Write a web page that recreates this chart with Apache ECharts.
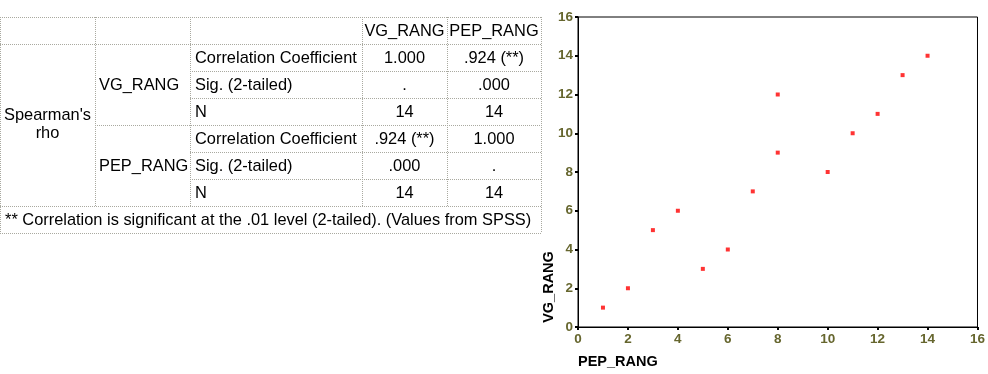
<!DOCTYPE html>
<html><head><meta charset="utf-8">
<script src="https://cdn.jsdelivr.net/npm/echarts@6/dist/echarts.min.js"></script>
<style>html,body{margin:0;padding:0;background:#fff}#c{width:988px;height:374px}</style>
</head><body><div id="c"></div>
<script>
// Scatter data (PEP_RANG, VG_RANG)
var pepRang = [1, 2, 3, 4, 5, 6, 7, 8, 8, 10, 11, 12, 13, 14];
var vgRang  = [1, 2, 5, 6, 3, 4, 7, 9, 12, 8, 10, 11, 13, 14];
var axisTicks = [0, 2, 4, 6, 8, 10, 12, 14, 16];
var xName = 'PEP_RANG', yName = 'VG_RANG';

// Table content
var colHeaders = ['VG_RANG', 'PEP_RANG'];
var groupLabel = ["Spearman's", 'rho'];
var varLabels = ['VG_RANG', 'PEP_RANG'];
var statLabels = ['Correlation Coefficient', 'Sig. (2-tailed)', 'N'];
var colVG  = ['1.000', '.', '14', '.924 (**)', '.000', '14'];
var colPEP = ['.924 (**)', '.000', '14', '1.000', '.', '14'];
var footnote = '** Correlation is significant at the .01 level (2-tailed). (Values from SPSS)';

var colX = [0, 95, 190, 362, 447, 541];
var rowY = [17, 44, 71, 98, 125, 152, 179, 206, 233];
var FONT = '"Liberation Sans", Arial, sans-serif';
var lineCol = '#a9a9a0';

var g = [];
function hline(x1, x2, y) {
  g.push({type:'line', silent:true, shape:{x1:x1, y1:y+0.5, x2:x2, y2:y+0.5},
    style:{stroke:lineCol, lineWidth:1, lineDash:[1,1]}});
}
function vline(x, y1, y2) {
  g.push({type:'line', silent:true, shape:{x1:x+0.5, y1:y1, x2:x+0.5, y2:y2},
    style:{stroke:lineCol, lineWidth:1, lineDash:[1,1]}});
}
function txt(s, x, y, align) {
  g.push({type:'text', silent:true, x:x, y:y,
    style:{text:s, fill:'#000', font:'16.4px ' + FONT, align:align || 'left', verticalAlign:'middle'}});
}
// borders
hline(colX[0], colX[5], rowY[0]);
hline(colX[0], colX[5], rowY[1]);
hline(colX[2], colX[5], rowY[2]);
hline(colX[2], colX[5], rowY[3]);
hline(colX[1], colX[5], rowY[4]);
hline(colX[2], colX[5], rowY[5]);
hline(colX[2], colX[5], rowY[6]);
hline(colX[0], colX[5], rowY[7]);
hline(colX[0], colX[5], rowY[8]);
vline(colX[0], rowY[0], rowY[8]);
vline(colX[1], rowY[0], rowY[7]);
vline(colX[2], rowY[0], rowY[7]);
vline(colX[3], rowY[0], rowY[7]);
vline(colX[4], rowY[0], rowY[7]);
vline(colX[5], rowY[0], rowY[8]);
// header
txt(colHeaders[0], (colX[3] + colX[4]) / 2, (rowY[0] + rowY[1]) / 2 + 1, 'center');
txt(colHeaders[1], (colX[4] + colX[5]) / 2, (rowY[0] + rowY[1]) / 2 + 1, 'center');
// group label
txt(groupLabel[0], (colX[0] + colX[1]) / 2, 115, 'center');
txt(groupLabel[1], (colX[0] + colX[1]) / 2, 133, 'center');
// variable labels
txt(varLabels[0], 99, (rowY[1] + rowY[4]) / 2 + 1);
txt(varLabels[1], 99, (rowY[4] + rowY[7]) / 2 + 1);
for (var i = 0; i < 6; i++) {
  var yc = (rowY[i + 1] + rowY[i + 2]) / 2 + 1;
  txt(statLabels[i % 3], 195, yc);
  txt(colVG[i], (colX[3] + colX[4]) / 2, yc, 'center');
  txt(colPEP[i], (colX[4] + colX[5]) / 2, yc, 'center');
}
txt(footnote, 5, (rowY[7] + rowY[8]) / 2 + 1);
// axis names
g.push({type:'text', silent:true, x:578, y:362,
  style:{text:xName, fill:'#000', font:'bold 14.5px ' + FONT, align:'left', verticalAlign:'middle'}});
g.push({type:'text', silent:true, x:549, y:287, rotation:Math.PI/2,
  style:{text:yName, fill:'#000', font:'bold 14.5px ' + FONT, align:'center', verticalAlign:'middle'}});

var axisCommon = {
  type:'value', min:axisTicks[0], max:axisTicks[axisTicks.length-1], interval:axisTicks[1]-axisTicks[0],
  axisLine:{show:true, lineStyle:{color:'#000', width:1}},
  axisTick:{show:true, inside:false, length:3, lineStyle:{color:'#000', width:2}},
  axisLabel:{color:'#66662e', fontWeight:'bold', fontSize:13.5, fontFamily:FONT, margin:5},
  splitLine:{show:false}
};
var chart = echarts.init(document.getElementById('c'), null, {renderer:'canvas'});
chart.setOption({
  animation:false,
  backgroundColor:'#fff',
  grid:{left:578, right:8, top:17, bottom:47, show:true, borderColor:'#000', borderWidth:1, backgroundColor:'transparent'},
  xAxis:axisCommon,
  yAxis:axisCommon,
  series:[{
    type:'scatter', symbol:'rect', symbolSize:4,
    itemStyle:{color:'#ff0000'},
    data:pepRang.map(function (x, i) { return [x, vgRang[i]]; })
  }],
  graphic:g
});
</script></body></html>
